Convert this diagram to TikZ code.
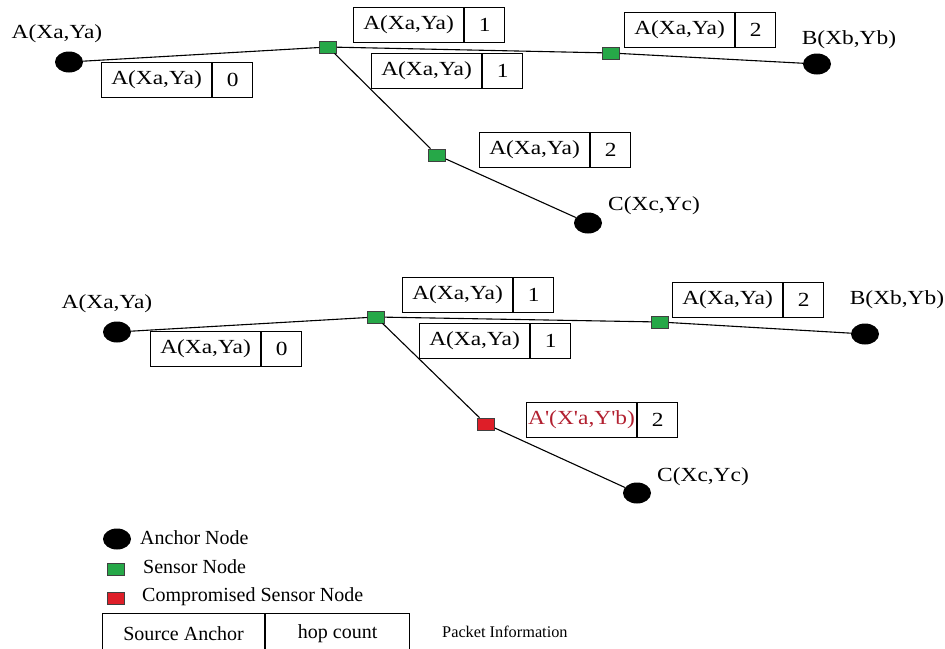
\documentclass[tikz,border=0pt]{standalone}
\usepackage{fontspec}
\setmainfont{Liberation Serif}
\newfontfamily\labelfont[FakeStretch=1.17]{Liberation Serif}
\usetikzlibrary{shapes.geometric}

\definecolor{sensorgreen}{RGB}{38,168,72}
\definecolor{badred}{RGB}{222,30,40}
\definecolor{badtext}{RGB}{178,32,48}

\tikzset{
  anchornode/.style={ellipse, fill=black, minimum width=28pt, minimum height=21pt, inner sep=0pt},
  sensor/.style={rectangle, fill=sensorgreen, draw=black!75, line width=0.8pt,
                 minimum width=17pt, minimum height=12pt, inner sep=0pt},
  compromised/.style={sensor, fill=badred},
  link/.style={line width=1.1pt},
  coordlabel/.style={font=\labelfont\fontsize{20}{24}\selectfont, inner sep=0pt},
  srccell/.style={draw, line width=1.1pt, minimum width=110pt, minimum height=35pt,
                  inner sep=0pt, anchor=north west, font=\labelfont\fontsize{20}{24}\selectfont},
  hopcell/.style={srccell, minimum width=40pt},
  legendtext/.style={font=\fontsize{20}{24}\selectfont, anchor=west, inner sep=0pt},
  legendcell/.style={draw, line width=1.1pt, minimum height=40pt, inner sep=0pt,
                     anchor=north west, font=\fontsize{20}{24}\selectfont},
}

% packet information box: source anchor cell followed by hop count cell
\newcommand\packetinfo[5]{%
  \node[srccell] (#1s) at (#2,#3) {#4};
  \node[hopcell] (#1h) at (#1s.north east) {#5};
}

\begin{document}
\begin{tikzpicture}[x=1pt,y=-1pt]
\useasboundingbox (0,0) rectangle (945,648);
\clip (0,0) rectangle (945,648);

% ---------- upper network ----------
\node[anchornode] (ta) at (69,62) {};
\node[coordlabel] (tal) at (57,34) {A(Xa,Ya)};
\node[sensor] (ts1) at (328,47) {};
\node[sensor] (ts2) at (611,53) {};
\node[sensor] (ts3) at (437,155) {};
\node[anchornode] (tb) at (817,64) {};
\node[coordlabel] (tbl) at (849,40) {B(Xb,Yb)};
\node[anchornode] (tc) at (588,223) {};
\node[coordlabel, anchor=west] (tcl) at (608,206) {C(Xc,Yc)};

\draw[link] (ta) -- (ts1);
\draw[link] (ts1) -- (ts2);
\draw[link] (ts2) -- (tb);
\draw[link] (ts1) -- (ts3);
\draw[link] (ts3) -- (tc);

\packetinfo{tp0}{101}{62}{A(Xa,Ya)}{0}
\packetinfo{tp1}{353}{7}{A(Xa,Ya)}{1}
\packetinfo{tp2}{371}{53}{A(Xa,Ya)}{1}
\packetinfo{tp3}{624}{12}{A(Xa,Ya)}{2}
\packetinfo{tp4}{479}{132}{A(Xa,Ya)}{2}

% ---------- lower network with a compromised sensor ----------
\node[anchornode] (ba) at (117,332) {};
\node[coordlabel] (bal) at (107,304) {A(Xa,Ya)};
\node[sensor] (bs1) at (376,317) {};
\node[sensor] (bs2) at (660,322) {};
\node[compromised] (bs3) at (486,424) {};
\node[anchornode] (bb) at (865,334) {};
\node[coordlabel] (bbl) at (897,300) {B(Xb,Yb)};
\node[anchornode] (bc) at (637,493) {};
\node[coordlabel, anchor=west] (bcl) at (657,477) {C(Xc,Yc)};

\draw[link] (ba) -- (bs1);
\draw[link] (bs1) -- (bs2);
\draw[link] (bs2) -- (bb);
\draw[link] (bs1) -- (bs3);
\draw[link] (bs3) -- (bc);

\packetinfo{bp0}{150}{331}{A(Xa,Ya)}{0}
\packetinfo{bp1}{402}{277}{A(Xa,Ya)}{1}
\packetinfo{bp2}{419}{323}{A(Xa,Ya)}{1}
\packetinfo{bp3}{672}{282}{A(Xa,Ya)}{2}
\packetinfo{bp4}{526}{402}{\textcolor{badtext}{A'(X'a,Y'b)}}{2}

% ---------- legend ----------
\node[anchornode] (lg1) at (117,539) {};
\node[legendtext] (lt1) at (140,538) {Anchor Node};
\node[sensor] (lg2) at (116,569) {};
\node[legendtext] (lt2) at (143,567) {Sensor Node};
\node[compromised] (lg3) at (116,598) {};
\node[legendtext] (lt3) at (142,597) {Compromised Sensor Node};
\node[legendcell, minimum width=162pt] (ls) at (102,613) {Source Anchor};
\node[legendcell, minimum width=144pt] (lh) at (ls.north east) {hop count};
\node[legendtext, font=\fontsize{16.3}{20}\selectfont] (lp) at (442,632) {Packet Information};
\end{tikzpicture}
\end{document}
